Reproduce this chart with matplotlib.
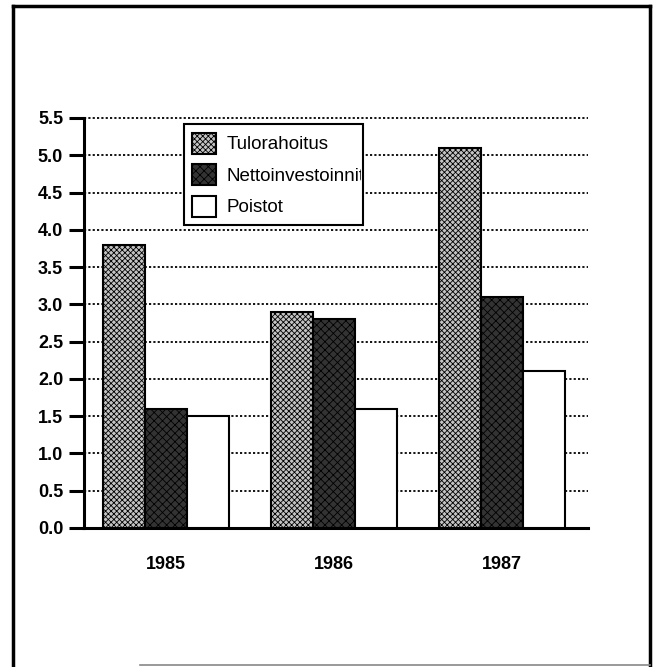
import matplotlib
matplotlib.use("Agg")
import matplotlib.pyplot as plt
from matplotlib.lines import Line2D
from matplotlib.transforms import Bbox, TransformedBbox
import numpy as np

plt.rcParams["font.family"] = ["Liberation Sans", "DejaVu Sans"]
plt.rcParams["hatch.linewidth"] = 0.6

# data
years = ["1985", "1986", "1987"]
series = ["Tulorahoitus", "Nettoinvestoinnit", "Poistot"]
tulorahoitus = [3.8, 2.9, 5.1]
nettoinvestoinnit = [1.6, 2.8, 3.1]
poistot = [1.5, 1.6, 2.1]
yticks = [0.0, 0.5, 1.0, 1.5, 2.0, 2.5, 3.0, 3.5, 4.0, 4.5, 5.0, 5.5]

fig = plt.figure(figsize=(6.53, 6.67), dpi=100)
ax = fig.add_axes([84 / 653, 1 - 528 / 667, (588 - 84) / 653, (528 - 118) / 667])

x = np.arange(len(years))
w = 0.25
styles = [
    dict(facecolor="#c4c4c4", hatch="xxxxxx"),
    dict(facecolor="#333333", hatch="xxxx"),
    dict(facecolor="white", hatch=None),
]
for i, (vals, st) in enumerate(zip([tulorahoitus, nettoinvestoinnit, poistot], styles)):
    ax.bar(x + (i - 1) * w, vals, width=w, edgecolor="black", linewidth=1.5,
           label=series[i], zorder=3, **st)

ax.set_xlim(-0.49, 2.51)
ax.set_ylim(0, 5.5)
ax.set_yticks(yticks)
ax.set_yticklabels([f"{v:.1f}" for v in yticks], fontsize=13, fontweight="bold")
ax.set_xticks(x)
ax.set_xticklabels(years, fontsize=13, fontweight="bold")
ax.tick_params(axis="x", length=0, pad=20)
ax.tick_params(axis="y", length=11, width=2.2, pad=4)

ax.yaxis.grid(True, color="black", linestyle=(0, (1.2, 1.2)), linewidth=1.3)
for gl in ax.get_ygridlines():
    gl.set_clip_on(False)
ax.set_axisbelow(True)
for s in ["top", "right"]:
    ax.spines[s].set_visible(False)
ax.spines["left"].set_linewidth(2.2)
ax.spines["bottom"].set_linewidth(2.2)

leg = ax.legend(loc="upper left", bbox_to_anchor=(0.198, 0.737, 0.356, 0.248),
                mode="expand", borderaxespad=0, fancybox=False, framealpha=1,
                edgecolor="black", fontsize=13.5, handlelength=1.25, handleheight=1.35,
                labelspacing=0.56, handletextpad=0.6, borderpad=0.45)
leg.get_frame().set_linewidth(1.5)
leg.set_zorder(5)
# long label is cut off at the legend box, as in the original
clip = TransformedBbox(Bbox([[0.198, 0.0], [0.549, 1.0]]), ax.transAxes)
for t in leg.get_texts():
    t.set_clip_box(clip)
    t.set_clip_on(True)

# outer frame of the scanned page
fig.add_artist(Line2D([13 / 653, 13 / 653], [1 - 6 / 667, 1 - 666 / 667], color="black", lw=2.5))
fig.add_artist(Line2D([13 / 653, 650 / 653], [1 - 6 / 667, 1 - 6 / 667], color="black", lw=2.5))
fig.add_artist(Line2D([650 / 653, 650 / 653], [1 - 6 / 667, 1 - 666 / 667], color="black", lw=2.5))
fig.add_artist(Line2D([140 / 653, 650 / 653], [1 - 665 / 667, 1 - 665 / 667], color="#888888", lw=1.2))

fig.savefig("out.png", dpi=100)
